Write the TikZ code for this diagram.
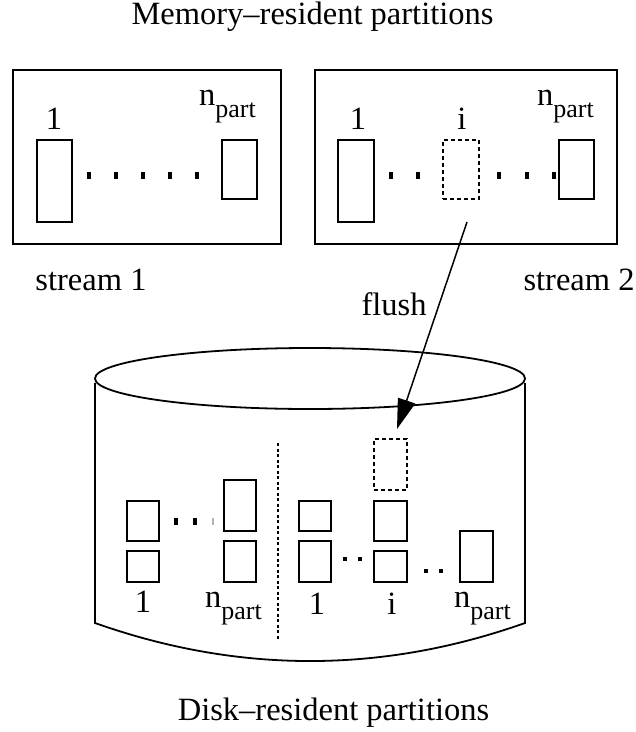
\documentclass[tikz,border=0pt]{standalone}
\usepackage{fontspec}
\setmainfont{Liberation Serif}
\usetikzlibrary{arrows.meta}

% subscripted partition count label
\newcommand{\npartlbl}{n\raisebox{-12pt}{\fontsize{26}{26}\selectfont part}}

\tikzset{
  txt/.style={inner sep=0pt, font=\fontsize{32.5}{32.5}\selectfont},
  part/.style={draw, line width=1.8pt, inner sep=0pt, minimum width=#1},
  part/.default=35pt,
  ghost/.style={part=#1, line width=1.6pt, dash pattern=on 4pt off 3pt},
  ghost/.default=35pt,
  frame/.style={draw, line width=1.8pt, inner sep=0pt},
  bigdot/.style={fill=black, inner sep=0pt, minimum width=3.5pt, minimum height=7pt},
  smalldot/.style={fill=black, inner sep=0pt, minimum width=3.5pt, minimum height=4pt},
  disk/.style={line width=1.8pt},
  flusharrow/.style={line width=1.5pt, -{Triangle[length=30pt,width=18pt]}},
}

\begin{document}
\begin{tikzpicture}[x=1pt,y=-1pt]
\useasboundingbox (0,0) rectangle (636,732);

% titles
\node[txt, anchor=base] (memtitle) at (312.5,24) {Memory–resident partitions};
\node[txt, anchor=base] (disktitle) at (333.5,720) {Disk–resident partitions};

% stream 1 buffer
\node[frame, minimum width=268pt, minimum height=174pt] (s1) at (147,157) {};
\node[part, minimum height=82pt] (s1a) at (54.5,181) {};
\node[part, minimum height=59pt] (s1n) at (239.5,169.5) {};
\foreach \x [count=\k] in {89,116,143,170,197}
  \node[bigdot] (s1d\k) at (\x,175) {};
\node[txt, anchor=base] (s1l1) at (54,129) {1};
\node[txt, anchor=base west] (s1ln) at (199,105) {\npartlbl};
\node[txt, anchor=base] (s1name) at (91,290) {stream 1};

% stream 2 buffer
\node[frame, minimum width=302pt, minimum height=174pt] (s2) at (466,157) {};
\node[part=36pt, minimum height=82pt] (s2a) at (356,181) {};
\node[ghost=36pt, minimum height=59pt] (s2i) at (461,169.5) {};
\node[part, minimum height=59pt] (s2n) at (576.5,169.5) {};
\foreach \x [count=\k] in {391,418,499,527,554}
  \node[bigdot] (s2d\k) at (\x,175) {};
\node[txt, anchor=base] (s2l1) at (358,129) {1};
\node[txt, anchor=base] (s2li) at (462,129) {i};
\node[txt, anchor=base west] (s2ln) at (537,105) {\npartlbl};
\node[txt, anchor=base] (s2name) at (579,290) {stream 2};

% disk cylinder
\draw[disk] (310,378.5) ellipse [x radius=215, y radius=30.5];
\draw[disk] (95,383) -- (95,623)
  .. controls (238.3,673.7) and (381.7,673.7) .. (525,623) -- (525,383);
\draw[line width=1.4pt, dash pattern=on 3pt off 2.5pt] (278,443) -- (278,640);

% stream 1 partitions on disk
\node[part=32pt, minimum height=40pt] (d1a) at (143,521) {};
\node[part=32pt, minimum height=31pt] (d1b) at (143,566.5) {};
\node[part=32pt, minimum height=51pt] (d1c) at (240,505.5) {};
\node[part=32pt, minimum height=41pt] (d1d) at (240,561.5) {};
\node[bigdot] (dd1) at (176,521) {};
\node[bigdot] (dd2) at (195,521) {};
\node[bigdot, fill=black!30, minimum width=1.5pt] (dd3) at (213,521) {};
\node[txt, anchor=base] (d1l1) at (143,612) {1};
\node[txt, anchor=base west] (d1ln) at (205,607) {\npartlbl};

% stream 2 partitions on disk
\node[part=32pt, minimum height=30pt] (d2a) at (315,516) {};
\node[part=32pt, minimum height=41pt] (d2b) at (315,561.5) {};
\node[ghost=33pt, minimum height=51pt] (d2g) at (390.5,464.5) {};
\node[part=33pt, minimum height=40pt] (d2c) at (390.5,521) {};
\node[part=33pt, minimum height=31pt] (d2d) at (390.5,566.5) {};
\node[part=33pt, minimum height=51pt] (d2e) at (476.5,556.5) {};
\node[smalldot] (de1) at (345,559) {};
\node[smalldot] (de2) at (360,559) {};
\node[smalldot] (de3) at (426,571) {};
\node[smalldot] (de4) at (441,571) {};
\node[txt, anchor=base] (d2l1) at (317,614) {1};
\node[txt, anchor=base] (d2li) at (392,614) {i};
\node[txt, anchor=base west] (d2ln) at (454,607) {\npartlbl};

% flush of partition i
\coordinate (fsrc) at (467,222);
\coordinate (fdst) at (397,429);
\draw[flusharrow] (fsrc) -- (fdst);
\node[txt, anchor=base] (flush) at (394,315) {flush};
\end{tikzpicture}
\end{document}
